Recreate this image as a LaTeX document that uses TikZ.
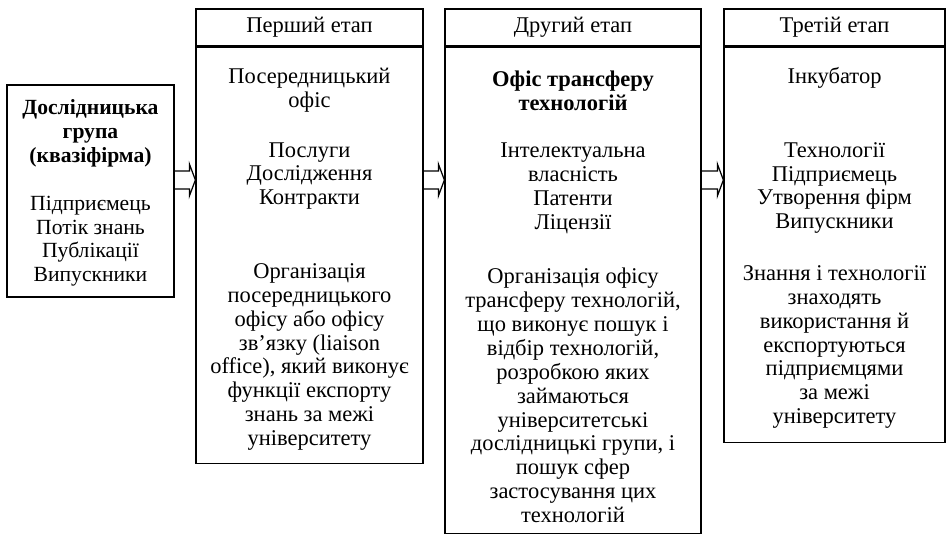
\documentclass[tikz,border=0pt]{standalone}
\usepackage{fontspec}
\setmainfont{Liberation Serif}
\usetikzlibrary{calc,positioning}

\newcommand{\pxu}{0.02cm}
% hollow arrow between two stages
\newcommand{\stagearrow}[2]{%
  \draw[line width=0.7pt] (#1.east |- 0,171) -- ($(#2.west |- 0,171)+(-6,0)$) -- ++(0,-7)
    -- (#2.west |- 0,180) -- ($(#2.west |- 0,189)+(-6,7)$) -- ++(0,-7) -- (#1.east |- 0,189);}

\begin{document}
\begin{tikzpicture}[x=0.02cm, y=-0.02cm,
    font=\fontsize{12.8}{13.6}\selectfont,
    box/.style={draw, line width=0.7pt, inner sep=0pt},
    txt/.style={align=center, inner sep=0pt}]
	\useasboundingbox (0,0) rectangle (947,536);
	% Research group
	\node[box, minimum width=167*\pxu, minimum height=212*\pxu] (Group) at (90.5,191) {};
	\node[txt, font=\fontsize{12.3}{13.6}\selectfont] (GroupTxt) at (90.5,193) {\textbf{Дослідницька}\\ \textbf{група}\\ \textbf{(квазіфірма)}\\[13.6pt]
		Підприємець\\ Потік знань\\ Публікації\\ Випускники};
	% First stage
	\node[box, minimum width=227*\pxu, minimum height=37*\pxu] (Head1) at (309.5,27.5) {Перший етап};
	\node[box, below=0pt of Head1, minimum width=227*\pxu, minimum height=416*\pxu] (Body1) {};
	\node[txt] (Office1) at (309.5,90.5) {Посередницький\\ офіс};
	\node[txt] (Items1) at (309.5,176) {Послуги\\ Дослідження\\ Контракти};
	\node[txt] (Note1) at (309.5,357) {Організація\\ посередницького\\ офісу або офісу\\ зв'язку (liaison\\
		office), який виконує\\ функції експорту\\ знань за межі\\ університету};
	% Second stage
	\node[box, minimum width=256*\pxu, minimum height=37*\pxu] (Head2) at (573,27.5) {Другий етап};
	\node[box, below=0pt of Head2, minimum width=256*\pxu, minimum height=486*\pxu] (Body2) {};
	\node[txt] (Office2) at (573,90.5) {\textbf{Офіс трансферу}\\ \textbf{технологій}};
	\node[txt] (Items2) at (573,188) {Інтелектуальна\\ власність\\ Патенти\\ Ліцензії};
	\node[txt] (Note2) at (573,395.5) {Організація офісу\\ трансферу технологій,\\ що виконує пошук і\\ відбір технологій,\\
		розробкою яких\\ займаються\\ університетські\\ дослідницькі групи, і\\ пошук сфер\\ застосування цих\\ технологій};
	% Third stage
	\node[box, minimum width=221*\pxu, minimum height=37*\pxu] (Head3) at (834.5,27.5) {Третій етап};
	\node[box, below=0pt of Head3, minimum width=221*\pxu, minimum height=395*\pxu] (Body3) {};
	\node[txt] (Office3) at (834.5,78) {Інкубатор};
	\node[txt] (Items3) at (834.5,188) {Технології\\ Підприємець\\ Утворення фірм\\ Випускники};
	\node[txt] (Note3) at (834.5,347) {Знання і технології\\ знаходять\\ використання й\\ експортуються\\
		підприємцями\\ за межі\\ університету};
	% Arrows
	\stagearrow{Group}{Body1}
	\stagearrow{Body1}{Body2}
	\stagearrow{Body2}{Body3}
\end{tikzpicture}
\end{document}
